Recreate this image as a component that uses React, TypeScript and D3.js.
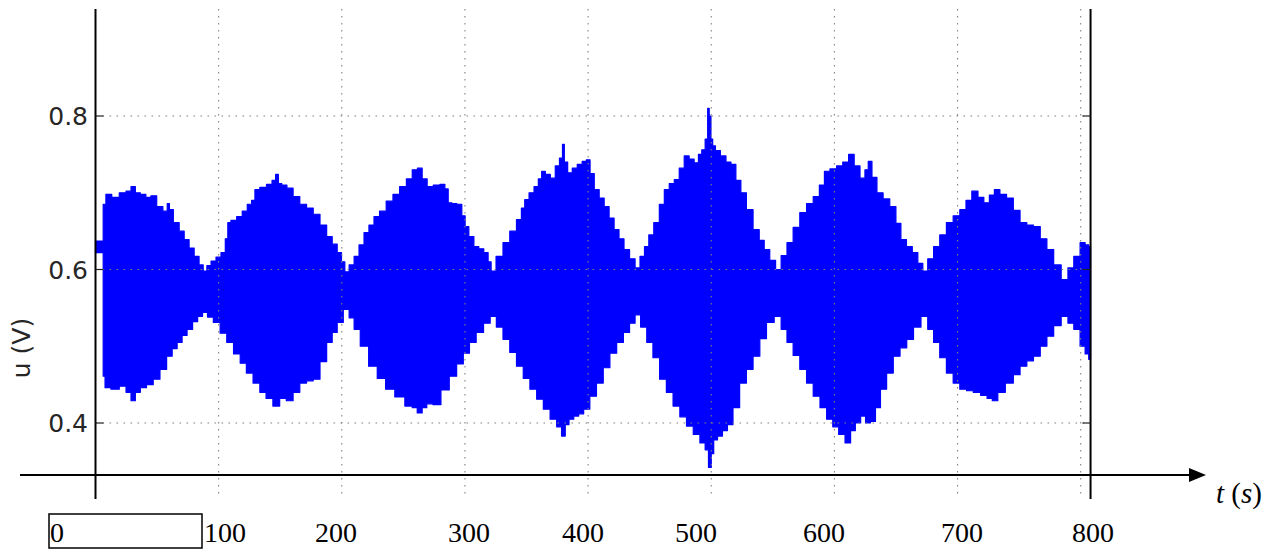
import React from "react";
import * as d3 from "d3";

// ---- data ----
// upper envelope of the beating signal u(t): [t (s), u (V)]
const upperEnvelope: [number, number][] = [
  [0, 0.637], [6, 0.637], [6.5, 0.685], [10.4, 0.698], [16, 0.694], [22.6, 0.7], [27, 0.702], [30.7, 0.708],
  [34, 0.7], [38.8, 0.698], [43, 0.694], [47, 0.696], [52.4, 0.682], [57, 0.676], [59.5, 0.686], [60.5, 0.678],
  [65.9, 0.661], [70, 0.65], [74, 0.639], [78, 0.628], [82.2, 0.617], [86, 0.606], [88.9, 0.598], [92, 0.605],
  [95.7, 0.611], [100, 0.616], [103.8, 0.622], [107, 0.64], [107.9, 0.661], [112, 0.664], [117.3, 0.669],
  [121, 0.676], [125.5, 0.685], [128, 0.69], [130.9, 0.704], [136, 0.707], [141.7, 0.711], [145, 0.716],
  [147.5, 0.724], [149.5, 0.712], [153, 0.71], [157.9, 0.706], [163, 0.695], [168.8, 0.685], [174, 0.68],
  [179.6, 0.672], [185, 0.658], [190.4, 0.643], [194, 0.633], [198.5, 0.622], [201, 0.61], [203.9, 0.597],
  [208, 0.606], [212, 0.617], [216, 0.632], [220.1, 0.648], [224, 0.658], [228.3, 0.669], [233, 0.676],
  [239.1, 0.689], [244, 0.698], [249.9, 0.708], [255, 0.718], [259.4, 0.73], [263.5, 0.732], [267, 0.718],
  [271.6, 0.708], [277, 0.71], [282.4, 0.711], [285, 0.705], [287.8, 0.687], [291, 0.686], [295.9, 0.685],
  [299, 0.67], [301.3, 0.656], [305, 0.643], [309.5, 0.63], [313, 0.627], [317.6, 0.622], [320, 0.61],
  [322.5, 0.598], [328, 0.617], [333.8, 0.635], [339, 0.65], [344.7, 0.665], [347, 0.68], [350.1, 0.691],
  [354, 0.7], [358.2, 0.708], [361, 0.718], [363.6, 0.728], [367, 0.724], [371.7, 0.719], [375, 0.735],
  [378.5, 0.745], [379.9, 0.763], [381.5, 0.74], [385.3, 0.726], [389, 0.732], [393.4, 0.737], [397, 0.741],
  [400.2, 0.743], [403, 0.725], [407, 0.704], [411, 0.693], [415.1, 0.682], [419, 0.667], [423.2, 0.652],
  [427, 0.64], [431.3, 0.626], [436, 0.614], [440.3, 0.602], [444, 0.617], [447.6, 0.63], [451, 0.645],
  [455.7, 0.661], [460, 0.685], [463.8, 0.704], [468, 0.712], [472, 0.717], [476, 0.732], [480.1, 0.748],
  [484, 0.744], [488.2, 0.739], [491, 0.75], [493.6, 0.756], [496.5, 0.77], [497.7, 0.81], [499, 0.8],
  [500.5, 0.77], [501.8, 0.761], [505, 0.755], [509.9, 0.748], [514, 0.74], [518, 0.737], [522, 0.716],
  [526.1, 0.7], [531, 0.678], [536.9, 0.652], [541, 0.638], [545, 0.626], [550, 0.612], [554.5, 0.6],
  [559, 0.618], [564, 0.635], [569, 0.655], [574.8, 0.674], [580, 0.686], [585.6, 0.695], [590, 0.71],
  [593.8, 0.728], [599, 0.731], [604.6, 0.735], [609, 0.74], [614.1, 0.75], [618, 0.735], [623.6, 0.719],
  [626, 0.73], [629, 0.741], [632, 0.72], [637.1, 0.7], [642, 0.692], [647.9, 0.682], [652, 0.66],
  [656, 0.639], [661, 0.63], [665.5, 0.622], [670, 0.608], [673.6, 0.598], [678, 0.614], [683.1, 0.63],
  [688, 0.645], [693.9, 0.661], [699, 0.67], [704.7, 0.678], [709, 0.69], [714.2, 0.702], [719, 0.694],
  [723.7, 0.687], [728, 0.697], [731.8, 0.704], [737, 0.698], [742.6, 0.693], [748, 0.677], [753.5, 0.661],
  [759, 0.658], [764.3, 0.656], [770, 0.64], [775.1, 0.626], [781, 0.606], [787.3, 0.587], [792, 0.602],
  [796.8, 0.617], [802.2, 0.635], [805, 0.632], [808, 0.63],
];

// lower envelope of the beating signal u(t): [t (s), u (V)]
const lowerEnvelope: [number, number][] = [
  [0, 0.622], [6, 0.622], [6.5, 0.461], [9, 0.446], [16, 0.444], [22.6, 0.448], [27, 0.44], [30.7, 0.429],
  [34, 0.44], [38.8, 0.446], [44, 0.45], [49.7, 0.457], [55, 0.47], [60.5, 0.487], [64, 0.497], [68.6, 0.505],
  [72, 0.514], [76.7, 0.522], [81, 0.532], [84.9, 0.539], [88.9, 0.544], [93, 0.538], [98.4, 0.531],
  [104, 0.517], [109.2, 0.505], [115, 0.49], [120, 0.478], [125, 0.465], [130.9, 0.452], [136, 0.44],
  [141, 0.432], [147.1, 0.422], [152, 0.432], [157.9, 0.429], [163, 0.44], [168.8, 0.452], [174, 0.455],
  [179.6, 0.457], [185, 0.48], [190.4, 0.505], [194, 0.518], [198.5, 0.531], [203.9, 0.548], [208, 0.537],
  [212, 0.522], [218, 0.5], [225.6, 0.474], [232, 0.458], [239.1, 0.444], [247, 0.434], [255.4, 0.422],
  [259, 0.42], [263.5, 0.413], [267, 0.42], [271, 0.425], [277, 0.424], [284, 0.443], [290.5, 0.461],
  [296, 0.477], [301.3, 0.491], [306, 0.505], [312.2, 0.518], [318, 0.53], [323, 0.539], [328, 0.525],
  [333.8, 0.509], [339, 0.492], [344.7, 0.474], [350, 0.458], [355.5, 0.444], [361, 0.431], [366.3, 0.418],
  [372, 0.405], [377, 0.395], [379.9, 0.383], [383, 0.398], [386, 0.405], [390.7, 0.409], [394, 0.412],
  [398.8, 0.418], [404, 0.435], [409.6, 0.452], [415, 0.472], [420.4, 0.491], [426, 0.505], [431.3, 0.518],
  [436, 0.53], [440.3, 0.541], [445, 0.525], [450.3, 0.505], [455, 0.485], [461.1, 0.457], [466, 0.44],
  [472, 0.422], [477, 0.408], [482.8, 0.396], [488, 0.385], [493.6, 0.374], [496.5, 0.365], [499, 0.342],
  [501, 0.36], [503, 0.378], [507.2, 0.383], [511, 0.39], [515.3, 0.398], [520, 0.42], [526.1, 0.452],
  [531, 0.47], [536.9, 0.487], [542, 0.51], [547.7, 0.531], [554.5, 0.539], [559, 0.522], [564, 0.505],
  [569, 0.488], [574.8, 0.47], [580, 0.452], [585.6, 0.435], [591, 0.42], [596.4, 0.405], [601, 0.395],
  [606, 0.385], [611.3, 0.374], [615, 0.39], [619, 0.4], [623.6, 0.409], [627, 0.4], [631.7, 0.402],
  [635, 0.42], [639.8, 0.444], [645, 0.465], [650.6, 0.487], [656, 0.498], [661.5, 0.509], [667, 0.525],
  [673.6, 0.539], [678, 0.522], [683.1, 0.505], [688, 0.485], [693.9, 0.465], [699, 0.452], [704.7, 0.444],
  [710, 0.442], [715.5, 0.44], [722, 0.436], [726, 0.432], [730.4, 0.429], [735, 0.44], [742.6, 0.452],
  [748, 0.463], [753.5, 0.474], [759, 0.481], [764.3, 0.487], [770, 0.5], [775.1, 0.513], [781, 0.527],
  [787.3, 0.539], [792, 0.53], [796.8, 0.522], [802.2, 0.5], [805, 0.49], [808, 0.483],
];

const yTicks = [0.4, 0.6, 0.8];
const xGridTicks = [100, 200, 300, 400, 500, 600, 700, 800];
const xLabels = ["0", "100", "200", "300", "400", "500", "600", "700", "800"];

// ---- layout ----
const W = 1275;
const H = 550;
const plotTop = 9;
const plotBottom = 499;
const axisY = 475;
const tEnd = 808;
const labelLeft = [50, 204, 315, 448, 562, 675, 803, 941, 1072];

export default function App() {
  const x = d3.scaleLinear().domain([0, 800]).range([95.5, 1080.7]);
  const y = d3.scaleLinear().domain([0.4, 0.8]).range([423, 116]);

  const outline = [...upperEnvelope, ...lowerEnvelope.slice().reverse()];
  const line = d3
    .line<[number, number]>()
    .x((d) => x(d[0]))
    .y((d) => y(d[1]))
    .curve(d3.curveStep);
  const signalPath = (line(outline) || "") + "Z";

  const x0 = x(0);
  const x1 = x(tEnd);

  return (
    <svg
      width={W}
      height={H}
      viewBox={`0 0 ${W} ${H}`}
      style={{ position: "absolute", left: 0, top: 0, background: "#fff" }}
    >
      {/* signal */}
      <path d={signalPath} fill="#0000ff" stroke="#0000ff" strokeWidth={1.2} strokeLinejoin="round" />

      {/* grid */}
      <g stroke="#808080" strokeWidth={1.1} strokeDasharray="1.6,5.4" fill="none">
        {yTicks.map((v) => (
          <line key={"h" + v} x1={x0} x2={x1} y1={y(v)} y2={y(v)} />
        ))}
        {xGridTicks.map((t) => (
          <line key={"v" + t} x1={x(t)} x2={x(t)} y1={plotTop} y2={plotBottom} />
        ))}
      </g>

      {/* axis frame (left/right) */}
      <g stroke="#000" strokeWidth={2}>
        <line x1={x0} x2={x0} y1={plotTop} y2={plotBottom} />
        <line x1={x1} x2={x1} y1={plotTop} y2={plotBottom} />
      </g>
      {/* inward ticks */}
      <g stroke="#222" strokeWidth={1.2}>
        {yTicks.map((v) => (
          <g key={"t" + v}>
            <line x1={x0} x2={x0 + 8} y1={y(v)} y2={y(v)} />
            <line x1={x1} x2={x1 - 8} y1={y(v)} y2={y(v)} />
          </g>
        ))}
      </g>

      {/* y tick labels */}
      <g fontFamily="DejaVu Sans, sans-serif" fontSize={25} fill="#262626" textAnchor="end">
        {yTicks.map((v) => (
          <text key={"l" + v} x={88} y={y(v)} dy="0.36em">
            {d3.format(".1f")(v)}
          </text>
        ))}
      </g>

      {/* y axis label */}
      <text
        transform="translate(30,348) rotate(-90)"
        fontFamily="DejaVu Sans, sans-serif"
        fontSize={25}
        fill="#262626"
        textAnchor="middle"
      >
        u (V)
      </text>

      {/* horizontal time axis with arrow */}
      <line x1={20} x2={1190} y1={axisY} y2={axisY} stroke="#000" strokeWidth={2} />
      <path d={`M1189,${axisY - 7}L1206,${axisY}L1189,${axisY + 7}Z`} fill="#000" />
      <text x={1216} y={503} fontFamily="Liberation Serif, Times New Roman, serif" fontSize={29} fill="#000">
        <tspan fontStyle="italic">t</tspan>
        <tspan> (</tspan>
        <tspan fontStyle="italic">s</tspan>
        <tspan>)</tspan>
      </text>

      {/* time labels */}
      <rect x={49} y={514} width={153} height={34} fill="none" stroke="#000" strokeWidth={1.5} />
      <g fontFamily="Liberation Serif, Times New Roman, serif" fontSize={28} fill="#000">
        {xLabels.map((s, i) => (
          <text key={"x" + s} x={labelLeft[i]} y={542}>
            {s}
          </text>
        ))}
      </g>
    </svg>
  );
}
